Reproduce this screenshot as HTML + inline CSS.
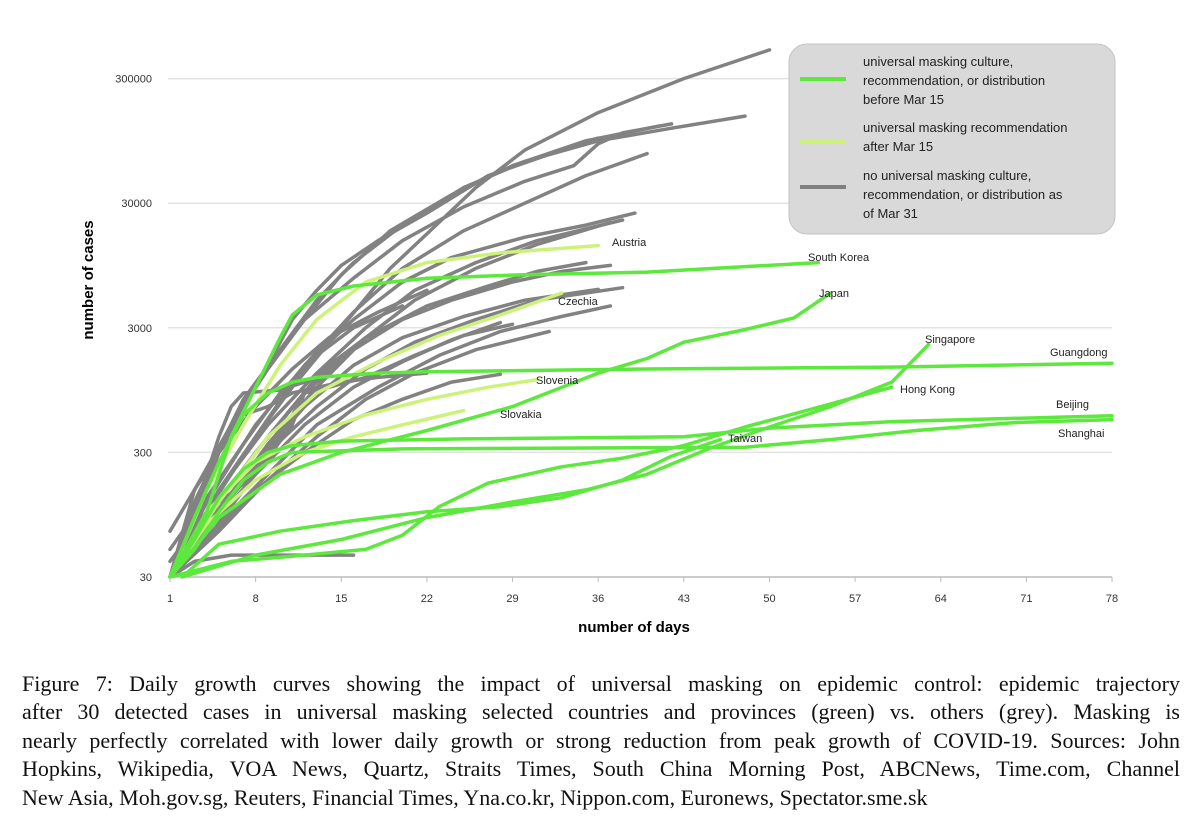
<!DOCTYPE html>
<html><head><meta charset="utf-8">
<style>
body{margin:0;background:#fff;width:1200px;height:833px;overflow:hidden;font-family:"Liberation Sans",sans-serif}
#cap{position:absolute;left:22px;top:670px;width:1158px;font-family:"Liberation Serif",serif;font-size:22px;line-height:28.4px;color:#111}
#cap div{text-align:justify;text-align-last:justify;white-space:nowrap;overflow:visible}
#cap div.last{text-align-last:left}
</style></head><body>
<svg id="chart" width="1200" height="660" style="position:absolute;left:0;top:0">
<g id="grid"></g>
<g id="lines"></g>
<g id="ticks"></g>
<g id="labels" font-size="11" fill="#222"></g>
<text transform="translate(93,280) rotate(-90)" text-anchor="middle" font-size="15" font-weight="bold">number of cases</text>
<text x="634" y="632" text-anchor="middle" font-size="15" font-weight="bold">number of days</text>
<g>
<rect x="789" y="44" width="326" height="190" rx="18" fill="#d9d9d9" stroke="#c2c2c2"/>
<line x1="800" y1="79" x2="846" y2="79" stroke="#5ce83c" stroke-width="4"/>
<line x1="800" y1="142" x2="846" y2="142" stroke="#cdf27a" stroke-width="4"/>
<line x1="800" y1="187" x2="846" y2="187" stroke="#808080" stroke-width="4"/>
<g font-size="13" fill="#222">
<text x="863" y="66">universal masking culture,</text>
<text x="863" y="85">recommendation, or distribution</text>
<text x="863" y="104">before Mar 15</text>
<text x="863" y="132">universal masking recommendation</text>
<text x="863" y="151">after Mar 15</text>
<text x="863" y="180">no universal masking culture,</text>
<text x="863" y="199">recommendation, or distribution as</text>
<text x="863" y="218">of Mar 31</text>
</g></g>
</svg>
<div id="cap">
<div>Figure 7: Daily growth curves showing the impact of universal masking on epidemic control: epidemic trajectory</div>
<div>after 30 detected cases in universal masking selected countries and provinces (green) vs. others (grey). Masking is</div>
<div>nearly perfectly correlated with lower daily growth or strong reduction from peak growth of COVID-19. Sources: John</div>
<div>Hopkins, Wikipedia, VOA News, Quartz, Straits Times, South China Morning Post, ABCNews, Time.com, Channel</div>
<div class="last">New Asia, Moh.gov.sg, Reuters, Financial Times, Yna.co.kr, Nippon.com, Euronews, Spectator.sme.sk</div>
</div>
<script>
const xTicks=[1,8,15,22,29,36,43,50,57,64,71,78];
const yTicks=[30,300,3000,30000,300000];
const yTickLabels=["30","300","3000","30000","300000"];
const grey=[
[[1,30],[5,150],[8,400],[11,1000],[15,3000],[19,9000],[22,17000],[26,40000],[30,80000],[36,160000],[43,300000],[50,510000]],
[[1,30],[4,200],[7,800],[10,2000],[13,5000],[16,10000],[20,20000],[25,40000],[30,65000],[36,95000],[42,120000],[48,150000]],
[[1,30],[3,150],[6,500],[9,1400],[12,3500],[15,8000],[19,18000],[24,35000],[29,60000],[35,95000],[41,125000]],
[[1,30],[3,120],[6,500],[9,1500],[12,3500],[16,7500],[20,15000],[25,28000],[30,45000],[34,60000],[36,90000],[38,110000],[42,130000]],
[[1,30],[4,100],[8,400],[12,1500],[16,4000],[20,9000],[25,18000],[30,30000],[35,50000],[40,75000]],
[[1,30],[4,120],[8,500],[12,1500],[16,3500],[20,7000],[24,11000],[30,16000],[35,20000],[39,25000]],
[[1,30],[5,150],[9,500],[13,1300],[17,3000],[21,6000],[26,10000],[31,15000],[38,22000]],
[[1,30],[5,100],[9,350],[13,1000],[17,2500],[21,5000],[26,9000],[31,14000],[37,21000]],
[[1,30],[5,120],[9,400],[13,1200],[17,2500],[22,4500],[27,6500],[31,8500],[35,10000]],
[[1,30],[4,90],[8,300],[12,900],[16,2000],[20,3500],[24,5000],[29,7000],[33,8500],[37,9500]],
[[1,30],[5,100],[9,300],[13,700],[17,1400],[21,2300],[26,3500],[31,5000],[38,6300]],
[[1,30],[4,80],[8,250],[12,700],[16,1500],[20,2500],[25,3700],[30,5000],[36,6100]],
[[1,30],[5,80],[9,200],[13,500],[18,1000],[23,1800],[28,2800],[33,3700],[37,4500]],
[[1,30],[4,70],[8,200],[12,500],[16,1000],[20,1600],[24,2400],[28,3300]],
[[1,30],[5,70],[9,180],[13,400],[17,800],[21,1300],[26,2000],[32,2800]],
[[1,30],[4,60],[8,150],[12,300],[16,550],[20,800],[24,1100],[28,1270]],
[[1,30],[3,80],[5,300],[7,600],[9,700],[11,900],[15,1100],[18,1200],[22,1300]],
[[1,30],[3,40],[6,45],[11,45],[16,45]],
[[1,30],[3,100],[5,400],[6,700],[7,900],[10,950],[12,1100],[14,1400],[16,2000]],
[[1,30],[3,100],[5,300],[7,700],[9,1500],[11,3500],[13,6000],[15,9500],[18,15000],[22,25000],[27,50000],[33,80000],[36,100000]],
[[1,30],[4,60],[7,150],[10,400],[12,900],[14,1500],[17,2500],[20,3500]],
[[1,40],[4,100],[8,200],[11,500],[12,900],[14,1000],[17,1200],[21,1800],[25,2600],[29,3200]],
[[1,70],[3,150],[5,300],[8,700],[11,1400],[14,2500],[18,4000],[22,6000]],
[[1,50],[4,130],[7,350],[10,900],[13,1800],[16,3000],[20,4500]]
];
const lightGreen=[
[[1,30],[4,150],[7,500],[10,1500],[13,3500],[17,7000],[22,10000],[28,12000],[36,13700]],
[[1,30],[5,120],[9,400],[13,900],[18,1600],[23,2600],[28,3800],[33,5700]],
[[1,30],[4,100],[8,250],[12,400],[17,600],[22,800],[27,1000],[31,1150]],
[[1,30],[4,80],[8,180],[12,300],[16,400],[20,500],[25,650]]
];
const green=[
[[1,30],[4,100],[6,400],[8,1000],[10,2500],[11,3800],[13,5500],[16,6500],[22,7500],[30,8000],[40,8400],[54,10000]],
[[1,30],[3,90],[5,250],[7,600],[9,900],[11,1100],[13,1200],[18,1300],[22,1330],[40,1400],[60,1450],[78,1560]],
[[1,30],[3,60],[5,130],[7,220],[9,300],[11,340],[15,370],[25,385],[43,400],[50,470],[60,530],[78,590]],
[[1,30],[3,50],[5,100],[7,180],[9,250],[11,300],[20,320],[48,330],[55,380],[62,450],[70,520],[78,550]],
[[2,30],[5,55],[10,70],[16,85],[22,100],[28,110],[33,130],[38,180],[42,280],[46,380]],
[[1,30],[6,40],[12,45],[17,50],[20,65],[23,110],[27,170],[33,230],[38,270],[43,340],[48,480],[53,650],[60,1000]],
[[2,30],[8,45],[15,60],[22,90],[29,120],[35,150],[40,200],[45,320],[50,480],[55,700],[60,1100],[63,2200]],
[[1,30],[5,90],[10,200],[15,300],[22,450],[29,700],[36,1300],[40,1700],[43,2300],[48,2900],[52,3600],[55,5700]]
];
const labelNames=["Austria","South Korea","Japan","Czechia","Singapore","Guangdong","Hong Kong","Slovenia","Beijing","Slovakia","Taiwan","Shanghai"];
const labelPos=[[612,246],[808,261],[819,297],[558,305],[925,343],[1050,356],[900,393],[536,384],[1056,408],[500,418],[728,442],[1058,437]];
const X=d=>170+(d-1)*(1112-170)/77;
const Y=v=>577-(Math.log10(v)-Math.log10(30))*124.6;
const NS="http://www.w3.org/2000/svg";
const grid=document.getElementById('grid'),ticks=document.getElementById('ticks'),lines=document.getElementById('lines'),labels=document.getElementById('labels');
yTicks.forEach((v,i)=>{
 const l=document.createElementNS(NS,'line');
 
 
 l.setAttribute('x1',168);l.setAttribute('x2',1112);l.setAttribute('y1',Y(v));l.setAttribute('y2',Y(v));
 l.setAttribute('stroke',i==0?'#bbb':'#e3e3e3');l.setAttribute('stroke-width',1.5);grid.appendChild(l);
 const t=document.createElementNS(NS,'text');
 
 
 t.setAttribute('x',152);t.setAttribute('y',Y(v)+4);t.setAttribute('text-anchor','end');t.setAttribute('font-size','11');t.setAttribute('fill','#333');
 t.textContent=yTickLabels[i];ticks.appendChild(t);
});
xTicks.forEach(d=>{
 const t=document.createElementNS(NS,'text');
 
 
 t.setAttribute('x',X(d));t.setAttribute('y',602);t.setAttribute('text-anchor','middle');t.setAttribute('font-size','11');t.setAttribute('fill','#333');
 t.textContent=d;ticks.appendChild(t);
 const k=document.createElementNS(NS,'line');
 
 
 k.setAttribute('x1',X(d));k.setAttribute('x2',X(d));k.setAttribute('y1',577);k.setAttribute('y2',582);k.setAttribute('stroke','#bbb');ticks.appendChild(k);
});
function draw(set,color,name){
 set.forEach(s=>{
  const p=document.createElementNS(NS,'polyline');
  
  
  p.setAttribute('points',s.map(q=>X(q[0]).toFixed(1)+','+Y(q[1]).toFixed(1)).join(' '));
  p.setAttribute('fill','none');p.setAttribute('stroke',color);p.setAttribute('stroke-width',3.5);p.setAttribute('stroke-linejoin','round');p.setAttribute('stroke-linecap','round');
  lines.appendChild(p);
 });
}
draw(grey,'#828282','grey-series-line');
draw(lightGreen,'#cdf27a','light-green-series-line');
draw(green,'#5ce83c','green-series-line');
labelNames.forEach((n,i)=>{
 const t=document.createElementNS(NS,'text');
 
 
 t.setAttribute('x',labelPos[i][0]);t.setAttribute('y',labelPos[i][1]);t.textContent=n;labels.appendChild(t);
});
</script>
</body></html>
